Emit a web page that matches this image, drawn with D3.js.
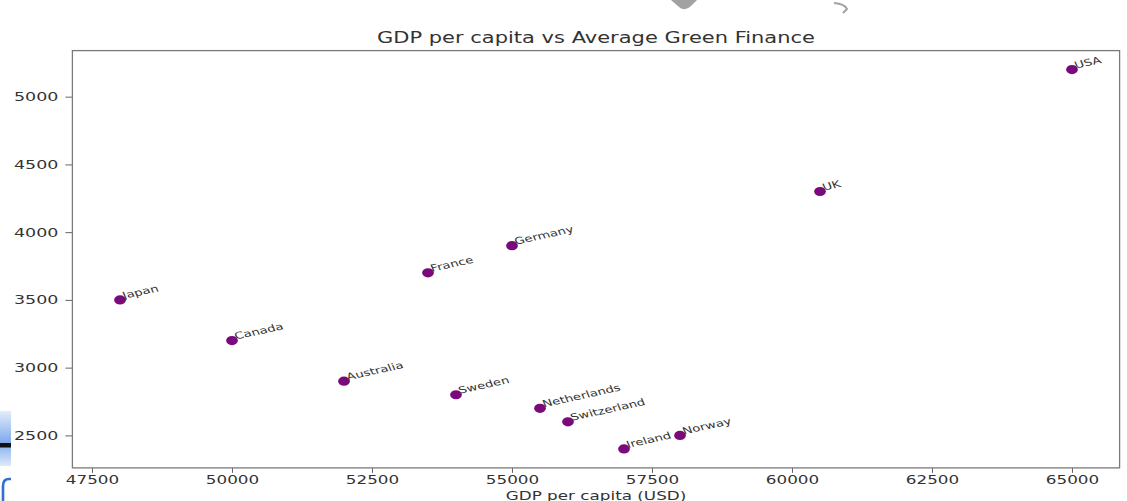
<!DOCTYPE html>
<html>
<head>
<meta charset="utf-8">
<script src="https://cdn.jsdelivr.net/npm/d3@7"></script>
<style>
  html, body { margin: 0; padding: 0; background: #fff; }
  svg { display: block; }
  text { font-family: "DejaVu Sans", sans-serif; }
</style>
</head>
<body>
<svg id="chart" width="1127" height="501"></svg>
<script>
// Countries and their values
const countries = ["Japan", "Canada", "Australia", "France", "Germany", "Sweden",
                   "Netherlands", "Switzerland", "Ireland", "Norway", "UK", "USA"];
const gdpPerCapita = [48000, 50000, 52000, 53500, 55000, 54000,
                      55500, 56000, 57000, 58000, 60500, 65000];
const greenFinance = [3500, 3200, 2900, 3700, 3900, 2800,
                      2700, 2600, 2400, 2500, 4300, 5200];

// Axis ticks
const xTicks = [47500, 50000, 52500, 55000, 57500, 60000, 62500, 65000];
const yTicks = [2500, 3000, 3500, 4000, 4500, 5000];

// Text strings
const titleText = "GDP per capita vs Average Green Finance";
const xLabelText = "GDP per capita (USD)";

// Layout
const W = 1127, H = 501;
const plot = { left: 72.4, right: 1119.6, top: 50.6, bottom: 467.9 };
const SX = 1.4;            // horizontal stretch applied to glyphs and markers
const textColor = "#333";

const svg = d3.select("#chart");

// Domains padded by 5% of the data range on each side
const xExt = d3.extent(gdpPerCapita), yExt = d3.extent(greenFinance);
const xPad = (xExt[1] - xExt[0]) * 0.05, yPad = (yExt[1] - yExt[0]) * 0.05;

const x = d3.scaleLinear()
  .domain([xExt[0] - xPad, xExt[1] + xPad])
  .range([plot.left, plot.right]);
const y = d3.scaleLinear()
  .domain([yExt[0] - yPad, yExt[1] + yPad])
  .range([plot.bottom, plot.top]);

// Edge fragments: blue tab with dark rule at lower left, grey shapes at top
const defs = svg.append("defs");
const grad = defs.append("linearGradient")
  .attr("id", "tabGrad").attr("x1", 0).attr("y1", 0).attr("x2", 0).attr("y2", 1);
[["0", "#e3edfb"], ["0.58", "#7ea8ea"], ["0.66", "#93b8ef"], ["1", "#dfeafa"]]
  .forEach(([o, c]) => grad.append("stop").attr("offset", o).attr("stop-color", c));
svg.append("rect").attr("x", 0).attr("y", 411).attr("width", 11).attr("height", 55)
  .attr("fill", "url(#tabGrad)");
svg.append("rect").attr("x", 0).attr("y", 443).attr("width", 11).attr("height", 4.5)
  .attr("fill", "#111");
svg.append("path")
  .attr("d", "M3,501 L3,486 Q3,479 9,479 L11,479")
  .attr("fill", "none").attr("stroke", "#2f6fd0").attr("stroke-width", 2.6);
svg.append("path")
  .attr("d", "M671,0 L697,0 L691,6 Q685,12 679,7 Z")
  .attr("fill", "#7a7a7a").attr("opacity", 0.7);
svg.append("path")
  .attr("d", "M834,3 Q845,4 847,9 L843,13")
  .attr("fill", "none").attr("stroke", "#8a8a8a").attr("stroke-width", 2).attr("opacity", 0.8);

// Axes
const fmt = d => String(d);

const xAxis = svg.append("g")
  .attr("transform", `translate(0,${plot.bottom})`)
  .call(d3.axisBottom(x).tickValues(xTicks).tickFormat(fmt).tickSize(5).tickPadding(3));
xAxis.select(".domain").remove();
xAxis.selectAll(".tick line").attr("stroke", "#666").attr("stroke-width", 1);
xAxis.selectAll(".tick text")
  .attr("fill", textColor).attr("font-size", 12)
  .attr("font-family", "DejaVu Sans")
  .attr("transform", `scale(${SX},1)`);

const yAxis = svg.append("g")
  .attr("transform", `translate(${plot.left},0)`)
  .call(d3.axisLeft(y).tickValues(yTicks).tickFormat(fmt).tickSize(7).tickPadding(3));
yAxis.select(".domain").remove();
yAxis.selectAll(".tick line").attr("stroke", "#666").attr("stroke-width", 1);
yAxis.selectAll(".tick text")
  .attr("fill", textColor).attr("font-size", 12.5)
  .attr("font-family", "DejaVu Sans")
  .attr("x", -10)
  .attr("transform", `scale(${SX},1)`);

// Plot frame
svg.append("rect")
  .attr("x", plot.left).attr("y", plot.top)
  .attr("width", plot.right - plot.left).attr("height", plot.bottom - plot.top)
  .attr("fill", "none").attr("stroke", "#7a7a7a").attr("stroke-width", 1.3);

// Points
const data = countries.map((c, i) => ({ name: c, gdp: gdpPerCapita[i], green: greenFinance[i] }));

svg.append("g").selectAll("ellipse")
  .data(data).join("ellipse")
  .attr("cx", d => x(d.gdp)).attr("cy", d => y(d.green))
  .attr("rx", 4.2 * SX).attr("ry", 4.6)
  .attr("fill", "#7a0a7c");

// Country labels, rotated
svg.append("g").selectAll("text")
  .data(data).join("text")
  .attr("transform", d => `translate(${x(d.gdp) + 4},${y(d.green) - 1}) scale(${SX},1) rotate(-17)`)
  .attr("font-size", 9.5)
  .attr("fill", textColor)
  .text(d => d.name);

// Title and axis label
const cx = (plot.left + plot.right) / 2;
svg.append("text")
  .attr("transform", `translate(${cx},43) scale(${SX},1)`)
  .attr("text-anchor", "middle").attr("font-size", 15).attr("fill", textColor)
  .text(titleText);
svg.append("text")
  .attr("transform", `translate(${cx},499.5) scale(${SX},1)`)
  .attr("text-anchor", "middle").attr("font-size", 12).attr("fill", textColor)
  .text(xLabelText);
</script>
</body>
</html>
